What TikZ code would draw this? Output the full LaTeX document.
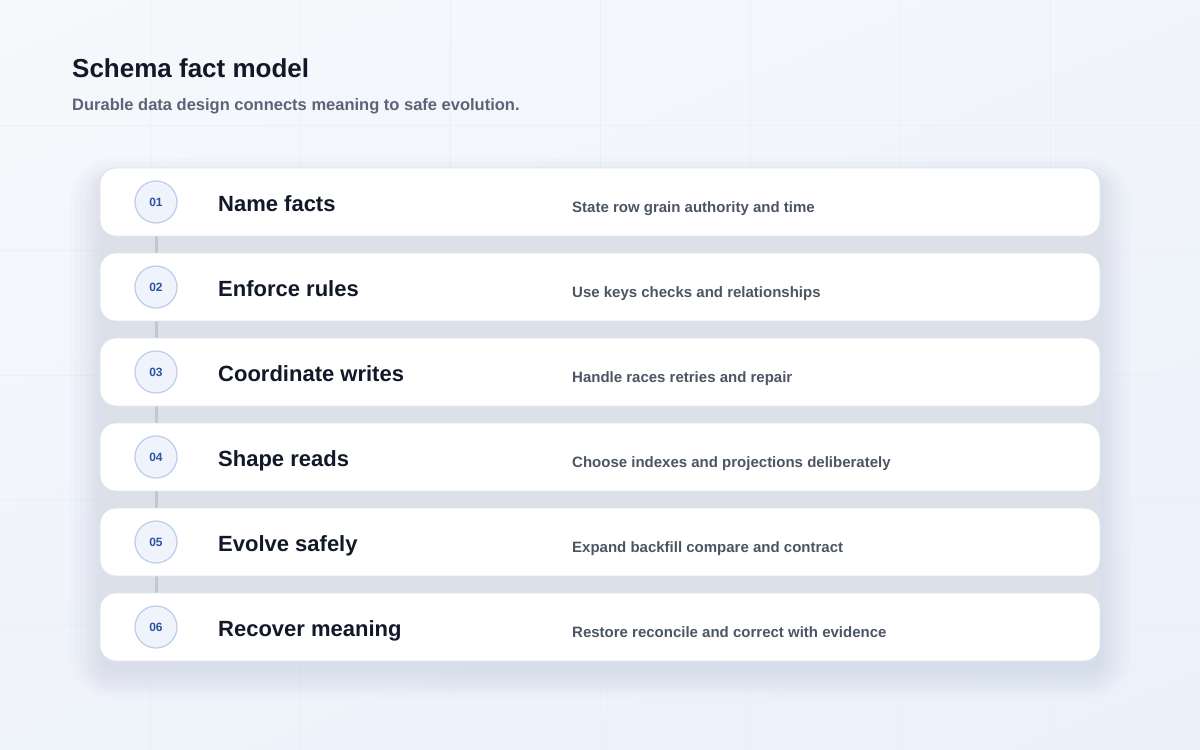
\documentclass[tikz,border=0pt]{standalone}
\usepackage{fontspec}
\setmainfont{Liberation Sans}
\usepackage{tikz}
\usetikzlibrary{positioning, shadings}

\definecolor{bgtop}{HTML}{F6F8FB}
\definecolor{bgbottom}{HTML}{EBF0FA}
\definecolor{gridline}{HTML}{EBEFF6}
\definecolor{headtext}{HTML}{111827}
\definecolor{subtext}{HTML}{5A6475}
\definecolor{titletext}{HTML}{111827}
\definecolor{notetext}{HTML}{4B5563}
\definecolor{numtext}{HTML}{2F53A1}
\definecolor{numfill}{HTML}{EFF4FC}
\definecolor{numline}{HTML}{BCCDEB}
\definecolor{cardline}{HTML}{DDE3EE}
\definecolor{gapfill}{HTML}{DCE0E9}
\definecolor{hazecol}{HTML}{A4ADC8}
\definecolor{linkgray}{HTML}{C3C7CF}

\pgfdeclarelayer{back}
\pgfdeclarelayer{haze}
\pgfdeclarelayer{wire}
\pgfsetlayers{back,haze,wire,main}

\begin{document}
\begin{tikzpicture}[x=1pt,y=-1pt,
  card/.style={draw=cardline, line width=0.8pt, fill=white, rounded corners=16pt, minimum width=1000pt, minimum height=68pt, inner sep=0pt, outer sep=0pt},
  stepnum/.style={circle, draw=numline, line width=1.2pt, fill=numfill, minimum size=42pt, inner sep=0pt, text=numtext, font=\fontsize{12}{14}\selectfont\bfseries},
  steptitle/.style={anchor=base west, inner sep=0pt, text=titletext, font=\fontsize{22}{26}\selectfont\bfseries},
  stepnote/.style={anchor=base west, inner sep=0pt, text=notetext, font=\fontsize{15}{18}\selectfont\bfseries},
  link/.style={draw=linkgray, line width=3pt},
  haze/.style={fill=hazecol, opacity=0.035, rounded corners=#1},
  haze/.default=24pt]
\useasboundingbox (0,0) rectangle (1200,750);

% Background
\begin{pgfonlayer}{back}
\shade[upper left=bgtop, upper right=bgtop!60!bgbottom, lower left=bgtop!40!bgbottom, lower right=bgbottom] (0,0) rectangle (1200,750);
\draw[gridline, line width=0.6pt] (150,0) -- (150,750) (300,0) -- (300,750) (450,0) -- (450,750) (600,0) -- (600,750) (750,0) -- (750,750) (900,0) -- (900,750) (1050,0) -- (1050,750);
\draw[gridline, line width=0.6pt] (0,125) -- (1200,125) (0,250) -- (1200,250) (0,375) -- (1200,375) (0,500) -- (1200,500) (0,625) -- (1200,625);
\end{pgfonlayer}

% Text Node
\node[anchor=base west, inner sep=0pt, text=headtext, font=\fontsize{26}{30}\selectfont\bfseries] (head) at (72,77) {Schema fact model};
% Text Node
\node[anchor=base west, inner sep=0pt, text=subtext, font=\fontsize{16.5}{20}\selectfont\bfseries] (sub) at (72,110) {Durable data design connects meaning to safe evolution.};

% Cards
\node[card] (c1) at (600,202) {};
\node[card, below=17pt of c1] (c2) {};
\node[card, below=17pt of c2] (c3) {};
\node[card, below=17pt of c3] (c4) {};
\node[card, below=17pt of c4] (c5) {};
\node[card, below=17pt of c5] (c6) {};

% Step numbers
\node[stepnum] (n1) at ([xshift=56pt]c1.west) {01};
\node[stepnum] (n2) at ([xshift=56pt]c2.west) {02};
\node[stepnum] (n3) at ([xshift=56pt]c3.west) {03};
\node[stepnum] (n4) at ([xshift=56pt]c4.west) {04};
\node[stepnum] (n5) at ([xshift=56pt]c5.west) {05};
\node[stepnum] (n6) at ([xshift=56pt]c6.west) {06};

% Step titles
\node[steptitle] (t1) at ([xshift=118pt, yshift=-9pt]c1.west) {Name facts};
\node[steptitle] (t2) at ([xshift=118pt, yshift=-9pt]c2.west) {Enforce rules};
\node[steptitle] (t3) at ([xshift=118pt, yshift=-9pt]c3.west) {Coordinate writes};
\node[steptitle] (t4) at ([xshift=118pt, yshift=-9pt]c4.west) {Shape reads};
\node[steptitle] (t5) at ([xshift=118pt, yshift=-9pt]c5.west) {Evolve safely};
\node[steptitle] (t6) at ([xshift=118pt, yshift=-9pt]c6.west) {Recover meaning};

% Step notes
\node[stepnote] (d1) at ([xshift=472pt, yshift=-10pt]c1.west) {State row grain authority and time};
\node[stepnote] (d2) at ([xshift=472pt, yshift=-10pt]c2.west) {Use keys checks and relationships};
\node[stepnote] (d3) at ([xshift=472pt, yshift=-10pt]c3.west) {Handle races retries and repair};
\node[stepnote] (d4) at ([xshift=472pt, yshift=-10pt]c4.west) {Choose indexes and projections deliberately};
\node[stepnote] (d5) at ([xshift=472pt, yshift=-10pt]c5.west) {Expand backfill compare and contract};
\node[stepnote] (d6) at ([xshift=472pt, yshift=-10pt]c6.west) {Restore reconcile and correct with evidence};

% Soft shadow under the stack
\begin{pgfonlayer}{haze}
\fill[haze=40pt] ([xshift=-30pt, yshift=10pt]c1.north west) rectangle ([xshift=30pt, yshift=-36pt]c6.south east);
\fill[haze=36pt] ([xshift=-25pt, yshift=6pt]c1.north west) rectangle ([xshift=25pt, yshift=-32pt]c6.south east);
\fill[haze=32pt] ([xshift=-20pt, yshift=2pt]c1.north west) rectangle ([xshift=20pt, yshift=-29pt]c6.south east);
\fill[haze=28pt] ([xshift=-15pt, yshift=-1pt]c1.north west) rectangle ([xshift=15pt, yshift=-26pt]c6.south east);
\fill[haze=24pt] ([xshift=-11pt, yshift=-3pt]c1.north west) rectangle ([xshift=11pt, yshift=-22pt]c6.south east);
\fill[haze=20pt] ([xshift=-7pt, yshift=-5pt]c1.north west) rectangle ([xshift=7pt, yshift=-18pt]c6.south east);
\fill[haze=18pt] ([xshift=-4pt, yshift=-7pt]c1.north west) rectangle ([xshift=4pt, yshift=-14pt]c6.south east);
\fill[haze=16pt] ([xshift=-1pt, yshift=-8pt]c1.north west) rectangle ([xshift=1pt, yshift=-10pt]c6.south east);
\fill[gapfill] ([yshift=-30pt]c1.north west) rectangle ([yshift=30pt]c6.south east);
\end{pgfonlayer}

% Links
\begin{pgfonlayer}{wire}
\draw[link] (n1) -- (n2);
\draw[link] (n2) -- (n3);
\draw[link] (n3) -- (n4);
\draw[link] (n4) -- (n5);
\draw[link] (n5) -- (n6);
\end{pgfonlayer}

\end{tikzpicture}
\end{document}
